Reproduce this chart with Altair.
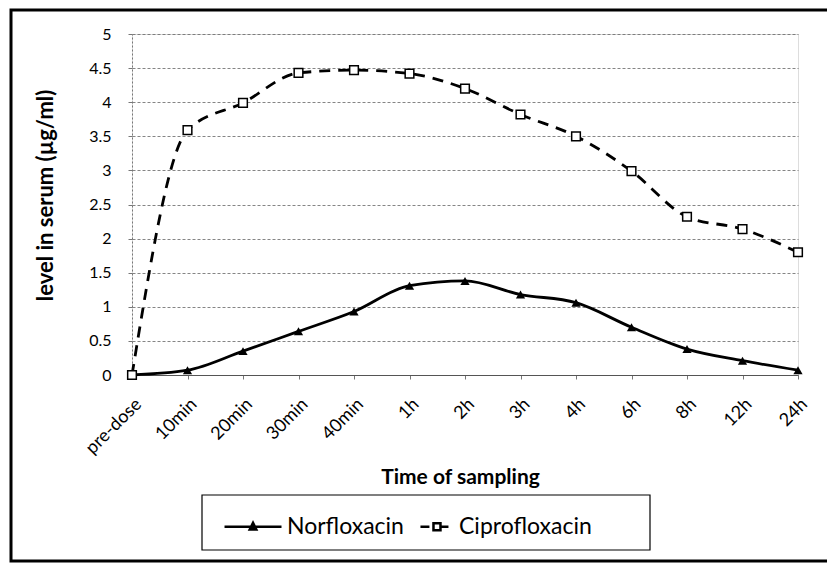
import altair as alt
import pandas as pd

times = ["pre-dose", "10min", "20min", "30min", "40min", "1h", "2h", "3h", "4h", "6h", "8h", "12h", "24h"]
drugs = ["Norfloxacin", "Ciprofloxacin"]
norfloxacin = [0.0, 0.07, 0.35, 0.64, 0.93, 1.31, 1.38, 1.18, 1.06, 0.70, 0.38, 0.21, 0.07]
ciprofloxacin = [0.0, 3.59, 3.99, 4.43, 4.47, 4.42, 4.20, 3.82, 3.50, 2.99, 2.32, 2.14, 1.80]

rows = []
for i, t in enumerate(times):
    rows.append({"time": t, "idx": i, "drug": "Norfloxacin", "value": norfloxacin[i]})
    rows.append({"time": t, "idx": i, "drug": "Ciprofloxacin", "value": ciprofloxacin[i]})
df = pd.DataFrame(rows)

FONT = "Lato"

x_enc = alt.X(
    "time:N",
    sort=times,
    scale=alt.Scale(domain=times, type="point", padding=0),
    axis=alt.Axis(
        title="Time of sampling",
        labelAngle=-45,
        labelAlign="right",
        labelBaseline="top",
        labelPadding=16,
        labelFontSize=18,
        labelColor="black",
        tickSize=4,
        tickColor="#777",
        domainColor="#555",
        grid=False,
        titleFontSize=21,
        titleFontWeight="bold",
        titleColor="black",
        titleX=328,
        titleY=102,
        titleBaseline="middle",
        titleAlign="center",
    ),
)
y_enc = alt.Y(
    "value:Q",
    scale=alt.Scale(domain=[0, 5], nice=False),
    axis=alt.Axis(
        title="level in serum (µg/ml)",
        values=[0, 0.5, 1, 1.5, 2, 2.5, 3, 3.5, 4, 4.5, 5],
        labelExpr="datum.value",
        labelFontSize=16,
        labelColor="black",
        labelPadding=17,
        tickSize=4,
        tickColor="#777",
        domainColor="#777",
        domainDash=[2, 2],
        grid=True,
        gridColor="#666",
        gridDash=[3, 2],
        gridWidth=0.8,
        titleFontSize=22,
        titleFontWeight="bold",
        titleColor="black",
        titleAngle=-90,
        titleX=-87,
        titleY=161,
        titleAlign="center",
        titleBaseline="middle",
    ),
)

base = alt.Chart(df)
deco = alt.Chart(alt.Data(values=[{"a": 1}]))

frame = deco.mark_rect(fill="transparent", stroke="black", strokeWidth=3).encode(
    x=alt.value(-121), x2=alt.value(710), y=alt.value(-24), y2=alt.value(527)
)
legend_box = deco.mark_rect(fill="white", stroke="black", strokeWidth=1.2).encode(
    x=alt.value(70), x2=alt.value(518), y=alt.value(461), y2=alt.value(516)
)

nor_line = base.transform_filter(alt.datum.drug == "Norfloxacin").mark_line(
    color="black", strokeWidth=2.8, interpolate="monotone"
).encode(x=x_enc, y=y_enc, order="idx:Q")

cip_line = base.transform_filter(alt.datum.drug == "Ciprofloxacin").mark_line(
    color="black", strokeWidth=2.8, interpolate="monotone", strokeDash=[11, 8]
).encode(x=x_enc, y=y_enc, order="idx:Q")

nor_pts = base.transform_filter(alt.datum.drug == "Norfloxacin").mark_point(
    shape="triangle-up", filled=True, color="black", size=85, opacity=1
).encode(x=x_enc, y=y_enc)

cip_pts = base.transform_filter(alt.datum.drug == "Ciprofloxacin").mark_point(
    shape="square", filled=True, fill="white", stroke="black", strokeWidth=1.5, size=75, opacity=1
).encode(x=x_enc, y=y_enc)

nor_sym = "M-3.07,0H1M-1.035,-0.28L-0.8,0.2L-1.27,0.2Z"
cip_sym = "M-1.36,0H-0.72M0.1,0H0.64M-0.43,-0.25H0.07V0.25H-0.43Z"

legend_props = dict(
    title=None,
    orient="none",
    legendX=120,
    legendY=477,
    direction="horizontal",
    padding=0,
    symbolSize=784,
    symbolStrokeWidth=2.5,
    symbolOpacity=1,
    labelFont=FONT,
    labelFontSize=23,
    labelColor="black",
    labelOffset=4,
    columnPadding=11,
    labelLimit=300,
)

legend_layer = base.transform_filter("false").mark_point(
    filled=True, strokeWidth=2.5, opacity=1
).encode(
    shape=alt.Shape("drug:N", scale=alt.Scale(domain=drugs, range=[nor_sym, cip_sym]),
                    legend=alt.Legend(**legend_props)),
    fill=alt.Fill("drug:N", scale=alt.Scale(domain=drugs, range=["black", "white"]),
                  legend=alt.Legend(**legend_props)),
    stroke=alt.Stroke("drug:N", scale=alt.Scale(domain=drugs, range=["black", "black"]),
                      legend=alt.Legend(**legend_props)),
)

chart = alt.layer(frame, legend_box, nor_line, cip_line, nor_pts, cip_pts, legend_layer).properties(
    width=666,
    height=341,
    autosize=alt.AutoSizeParams(type="none"),
    padding={"left": 124, "top": 26, "right": 29, "bottom": 188},
    background="white",
).configure_view(stroke=None).configure(font=FONT)

chart.save("out.html", embed_options={"renderer": "svg", "actions": False})
